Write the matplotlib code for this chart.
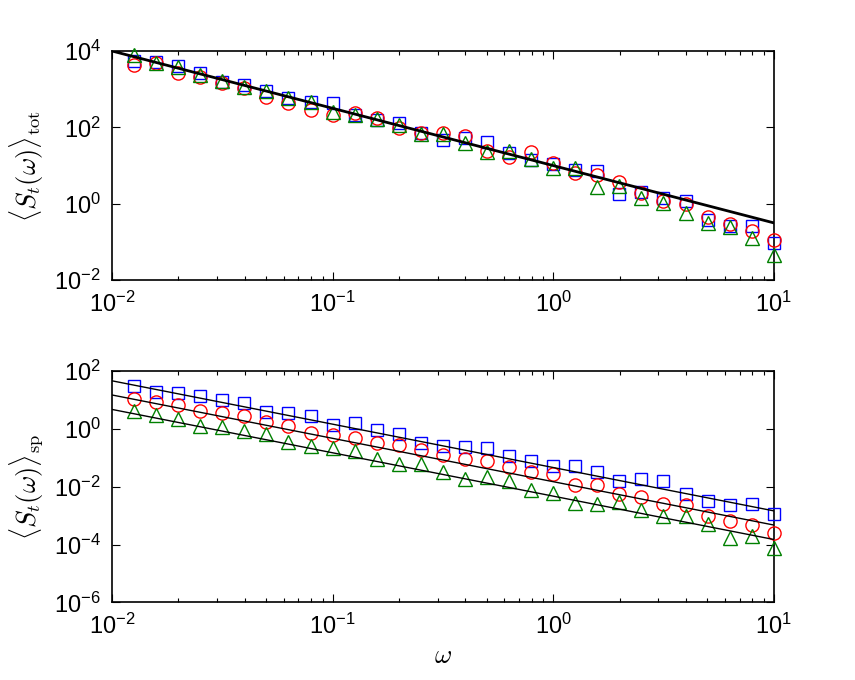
import numpy as np
import matplotlib
matplotlib.use("Agg")
import matplotlib.pyplot as plt

plt.rcParams['font.family'] = ['Liberation Sans', 'DejaVu Sans']
plt.rcParams['mathtext.fontset'] = 'cm'

# frequencies, log10 spaced by 0.1 from -1.9 to 1.0
log_omega = [-1.9, -1.8, -1.7, -1.6, -1.5, -1.4, -1.3, -1.2, -1.1, -1.0,
             -0.9, -0.8, -0.7, -0.6, -0.5, -0.4, -0.3, -0.2, -0.1, 0.0,
             0.1, 0.2, 0.3, 0.4, 0.5, 0.6, 0.7, 0.8, 0.9, 1.0]

# top panel: log10 <S_t>_tot
tot_blue = [3.75, 3.70, 3.62, 3.42, 3.20, 3.11, 2.94, 2.76, 2.67, 2.63,
            2.32, 2.19, 2.11, 1.86, 1.67, 1.71, 1.63, 1.34, 1.15, 1.03,
            0.88, 0.87, 0.26, 0.32, 0.14, 0.06, -0.42, -0.58, -0.58, -1.03]
tot_red = [3.63, 3.68, 3.42, 3.33, 3.15, 3.02, 2.80, 2.63, 2.46, 2.32,
           2.37, 2.25, 1.98, 1.84, 1.86, 1.77, 1.39, 1.23, 1.36, 1.08,
           0.80, 0.75, 0.58, 0.27, 0.06, -0.01, -0.34, -0.53, -0.70, -0.95]
tot_green = [3.90, 3.68, 3.59, 3.37, 3.21, 3.07, 2.95, 2.76, 2.67, 2.41,
             2.32, 2.22, 2.06, 1.82, 1.82, 1.58, 1.36, 1.38, 1.16, 0.93,
             0.93, 0.45, 0.47, 0.14, 0.01, -0.25, -0.51, -0.62, -0.90, -1.34]
tot_fit = 10.0  # S = A * omega^-1.5

# bottom panel: log10 <S_t>_sp
sp_blue = [1.48, 1.30, 1.24, 1.15, 0.99, 0.90, 0.59, 0.55, 0.46, 0.15,
           0.21, -0.02, -0.16, -0.49, -0.57, -0.62, -0.66, -0.92, -1.10, -1.29,
           -1.29, -1.47, -1.78, -1.73, -1.79, -2.25, -2.48, -2.64, -2.58, -2.94]
sp_red = [1.04, 0.92, 0.84, 0.61, 0.55, 0.44, 0.24, 0.09, -0.12, -0.20,
          -0.31, -0.49, -0.54, -0.74, -0.91, -1.03, -1.12, -1.32, -1.49, -1.55,
          -1.95, -1.93, -2.24, -2.35, -2.60, -2.62, -3.02, -3.17, -3.31, -3.60]
sp_green = [0.64, 0.49, 0.34, 0.11, 0.07, -0.08, -0.17, -0.45, -0.60, -0.66,
            -0.77, -1.04, -1.20, -1.20, -1.48, -1.73, -1.67, -1.81, -2.10, -2.21,
            -2.56, -2.58, -2.53, -2.79, -3.02, -3.00, -3.28, -3.77, -3.71, -4.12]
sp_fit = [10**-1.33, 10**-1.82, 10**-2.32]

omega = 10.0 ** np.array(log_omega)
w_line = np.array([0.01, 10.0])

blue = (0, 0, 1)
red = (1, 0, 0)
green = (0, 0.5, 0)
mk = dict(linestyle='none', markerfacecolor='none', markeredgewidth=1.0,
          clip_on=False, zorder=3)

fig = plt.figure(figsize=(8.55, 6.8), dpi=100)
ax1 = fig.add_axes([0.131, 0.588, 0.774, 0.337])
ax2 = fig.add_axes([0.131, 0.114, 0.774, 0.340])

ax1.plot(omega, 10.0 ** np.array(tot_blue), 's', color=blue, markersize=8, **mk)
ax1.plot(omega, 10.0 ** np.array(tot_red), 'o', color=red, markersize=9.5, **mk)
ax1.plot(omega, 10.0 ** np.array(tot_green), '^', color=green, markersize=10, **mk)
ax1.plot(w_line, tot_fit * w_line ** -1.5, 'k-', linewidth=2, zorder=4)
ax1.set_ylim(1e-2, 1e4)
ax1.set_yticks([1e-2, 1e0, 1e2, 1e4])
ax1.set_ylabel(r'$\langle S_t(\omega)\rangle_{\rm tot}$', fontsize=19, labelpad=6)

ax2.plot(omega, 10.0 ** np.array(sp_blue), 's', color=blue, markersize=8, **mk)
ax2.plot(omega, 10.0 ** np.array(sp_red), 'o', color=red, markersize=9.5, **mk)
ax2.plot(omega, 10.0 ** np.array(sp_green), '^', color=green, markersize=10, **mk)
for a in sp_fit:
    ax2.plot(w_line, a * w_line ** -1.5, 'k-', linewidth=1, zorder=4)
ax2.set_ylim(1e-6, 1e2)
ax2.set_yticks([1e-6, 1e-4, 1e-2, 1e0, 1e2])
ax2.set_ylabel(r'$\langle S_t(\omega)\rangle_{\rm sp}$', fontsize=19, labelpad=6)
ax2.set_xlabel(r'$\omega$', fontsize=19)

for ax in (ax1, ax2):
    ax.set_xscale('log')
    ax.set_yscale('log')
    ax.set_xlim(1e-2, 1e1)
    ax.yaxis.set_minor_locator(matplotlib.ticker.NullLocator())
    ax.tick_params(which='both', direction='in', top=True, right=True,
                   labelsize=17, width=0.8)
    ax.tick_params(which='major', length=6, pad=8)
    ax.tick_params(which='minor', length=3)
    for s in ax.spines.values():
        s.set_linewidth(1.2)

fig.savefig('out.png', dpi=100)
